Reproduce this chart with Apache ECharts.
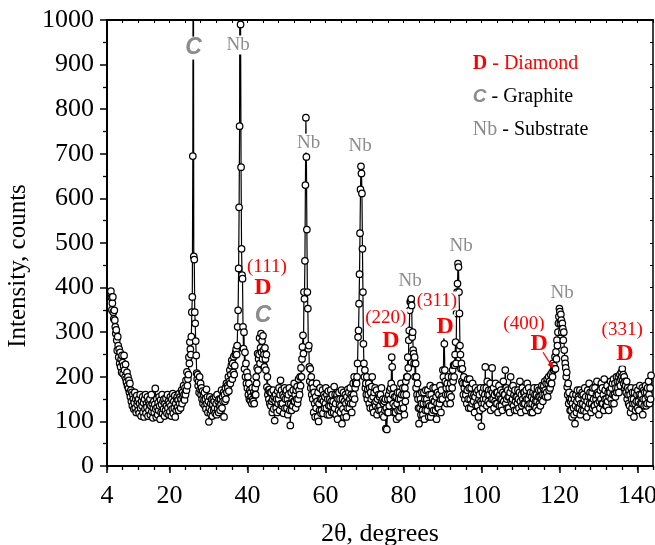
<!DOCTYPE html>
<html><head><meta charset="utf-8">
<script src="https://cdn.jsdelivr.net/npm/echarts@6/dist/echarts.min.js"></script>
<style>html,body{margin:0;padding:0;background:#fff}#c{width:655px;height:545px}</style>
</head><body><div id="c"></div>
<script>
// 2θ sampling grid of the measurement
const angleStart = 5;
const angleStep = 0.125;
// intensity (counts), eight samples per degree
const intensity = [
  392, 378, 350, 365, 379, 345, 330, 349,   // 5
  327, 312, 297, 305, 282, 259, 290, 270,   // 6
  244, 262, 230, 255, 222, 240, 210, 248,   // 7
  232, 207, 225, 248, 215, 200, 228, 195,   // 8
  188, 210, 180, 200, 174, 192, 165, 185,   // 9
  155, 170, 145, 165, 135, 160, 150, 128,   // 10
  142, 165, 130, 150, 120, 158, 138, 145,   // 11
  125, 150, 118, 140, 160, 130, 112, 145,   // 12
  135, 155, 120, 142, 110, 150, 128, 160,   // 13
  118, 140, 132, 155, 112, 145, 125, 138,   // 14
  150, 115, 135, 160, 122, 140, 108, 130,   // 15
  145, 120, 138, 174, 128, 110, 150, 132,   // 16
  115, 142, 125, 155, 135, 105, 148, 120,   // 17
  138, 160, 118, 145, 128, 150, 112, 140,   // 18
  125, 152, 135, 118, 160, 130, 145, 115,   // 19
  140, 122, 155, 135, 112, 150, 128, 162,   // 20
  118, 145, 130, 158, 110, 140, 125, 150,   // 21
  155, 132, 148, 125, 162, 140, 155, 130,   // 22
  150, 170, 140, 165, 155, 180, 160, 148,   // 23
  175, 160, 192, 170, 211, 180, 195, 205,   // 24
  244, 230, 278, 262, 250, 290, 345, 379,   // 25
  695, 1450, 470, 463, 345, 320, 280, 248,  // 26
  208, 195, 205, 180, 190, 165, 200, 172,   // 27
  185, 160, 175, 150, 168, 140, 160, 148,   // 28
  165, 135, 150, 128, 172, 140, 155, 120,   // 29
  145, 99, 130, 155, 118, 140, 125, 150,    // 30
  112, 138, 150, 125, 145, 130, 118, 155,   // 31
  140, 115, 160, 128, 145, 120, 150, 135,   // 32
  125, 150, 138, 170, 130, 155, 145, 165,   // 33
  110, 160, 145, 175, 150, 185, 165, 180,   // 34
  175, 200, 168, 190, 215, 185, 205, 225,   // 35
  237, 195, 230, 210, 245, 205, 225, 250,   // 36
  255, 262, 250, 270, 312, 349, 443, 580,   // 37
  762, 1600, 990, 670, 487, 428, 420, 312,  // 38
  263, 300, 218, 255, 200, 230, 185, 210,   // 39
  175, 200, 160, 185, 150, 170, 147, 165,   // 40
  155, 140, 175, 150, 145, 165, 140, 160,   // 41
  175, 160, 200, 185, 220, 252, 215, 240,   // 42
  250, 287, 230, 265, 297, 255, 280, 240,   // 43
  292, 260, 250, 222, 265, 240, 215, 250,   // 44
  177, 200, 160, 170, 150, 172, 140, 165,   // 45
  135, 165, 145, 120, 150, 170, 128, 155,   // 46
  102, 145, 160, 130, 150, 120, 168, 140,   // 47
  150, 175, 125, 160, 192, 140, 170, 135,   // 48
  140, 160, 118, 155, 175, 130, 150, 165,   // 49
  170, 130, 150, 115, 160, 140, 175, 125,   // 50
  91, 140, 165, 125, 150, 135, 170, 145,    // 51
  185, 145, 160, 130, 170, 150, 178, 140,   // 52
  150, 195, 170, 160, 200, 180, 220, 200,   // 53
  240, 267, 293, 252, 390, 375, 460, 630,   // 54
  781, 693, 530, 390, 353, 263, 270, 222,   // 55
  190, 218, 175, 200, 160, 185, 150, 175,   // 56
  120, 165, 140, 110, 155, 130, 185, 145,   // 57
  110, 165, 100, 140, 125, 175, 150, 118,   // 58
  125, 150, 170, 118, 145, 160, 130, 155,   // 59
  140, 175, 130, 160, 115, 150, 168, 135,   // 60
  115, 150, 135, 170, 145, 120, 160, 138,   // 61
  145, 120, 178, 130, 160, 140, 115, 155,   // 62
  160, 105, 150, 125, 165, 138, 150, 120,   // 63
  135, 170, 95, 150, 128, 165, 110, 145,    // 64
  120, 160, 140, 110, 155, 130, 172, 145,   // 65
  165, 130, 150, 175, 140, 160, 120, 155,   // 66
  140, 185, 160, 200, 150, 175, 185, 190,   // 67
  185, 200, 230, 289, 304, 364, 430, 522,   // 68
  620, 672, 656, 611, 487, 390, 274, 230,   // 69
  200, 215, 175, 185, 160, 200, 150, 172,   // 70
  160, 185, 140, 175, 130, 165, 150, 178,   // 71
  200, 130, 155, 120, 165, 140, 175, 135,   // 72
  145, 170, 115, 150, 130, 160, 125, 155,   // 73
  135, 160, 125, 175, 145, 115, 150, 140,   // 74
  110, 145, 125, 150, 84, 130, 82, 120,     // 75
  150, 120, 160, 135, 170, 150, 175, 185,   // 76
  244, 222, 160, 140, 175, 120, 155, 135,   // 77
  120, 155, 105, 140, 165, 125, 150, 110,   // 78
  165, 125, 150, 185, 130, 160, 140, 175,   // 79
  130, 160, 115, 175, 145, 190, 160, 200,   // 80
  200, 244, 220, 282, 304, 349, 368, 370,   // 81
  375, 360, 289, 300, 260, 252, 230, 244,   // 82
  200, 230, 175, 200, 160, 185, 150, 130,   // 83
  95, 160, 130, 150, 115, 140, 165, 125,    // 84
  115, 140, 165, 105, 150, 125, 170, 140,   // 85
  150, 125, 170, 140, 110, 160, 135, 180,   // 86
  110, 160, 135, 120, 150, 175, 125, 145,   // 87
  145, 175, 125, 155, 105, 140, 165, 130,   // 88
  130, 160, 140, 180, 150, 120, 170, 155,   // 89
  150, 215, 200, 297, 274, 215, 190, 160,   // 90
  175, 140, 185, 160, 200, 150, 175, 160,   // 91
  140, 185, 155, 200, 175, 215, 190, 226,   // 92
  200, 226, 250, 278, 230, 342, 390, 409,   // 93
  454, 446, 390, 342, 270, 250, 218, 230,   // 94
  190, 218, 185, 160, 200, 175, 150, 185,   // 95
  160, 185, 140, 170, 195, 150, 130, 175,   // 96
  195, 150, 130, 175, 160, 140, 185, 155,   // 97
  145, 160, 120, 155, 175, 135, 165, 140,   // 98
  135, 170, 110, 150, 160, 125, 175, 145,   // 99
  89, 140, 165, 130, 150, 175, 140, 160,    // 100
  222, 150, 175, 135, 190, 160, 145, 170,   // 101
  160, 140, 185, 125, 170, 150, 220, 165,   // 102
  150, 175, 130, 160, 145, 185, 140, 165,   // 103
  140, 165, 120, 155, 180, 135, 160, 150,   // 104
  170, 135, 150, 125, 165, 190, 145, 160,   // 105
  160, 215, 140, 175, 150, 130, 170, 155,   // 106
  130, 155, 120, 165, 200, 145, 175, 140,   // 107
  150, 180, 135, 160, 125, 170, 145, 155,   // 108
  125, 155, 140, 170, 150, 130, 165, 190,   // 109
  145, 120, 160, 135, 175, 150, 140, 165,   // 110
  165, 140, 155, 125, 170, 150, 185, 135,   // 111
  150, 175, 130, 160, 140, 165, 120, 155,   // 112
  140, 120, 165, 150, 175, 135, 160, 145,   // 113
  130, 160, 145, 175, 125, 155, 170, 140,   // 114
  155, 135, 170, 150, 180, 160, 145, 175,   // 115
  180, 160, 190, 170, 155, 185, 165, 195,   // 116
  155, 185, 200, 170, 190, 175, 205, 185,   // 117
  185, 210, 200, 230, 215, 225, 218, 245,   // 118
  218, 256, 240, 282, 270, 300, 320, 335,   // 119
  353, 346, 320, 340, 327, 300, 320, 308,   // 120
  282, 300, 260, 241, 230, 220, 200, 210,   // 121
  177, 160, 185, 140, 165, 150, 125, 145,   // 122
  125, 150, 110, 140, 160, 130, 115, 150,   // 123
  95, 135, 160, 120, 145, 170, 130, 155,    // 124
  150, 130, 170, 115, 140, 160, 125, 165,   // 125
  140, 160, 125, 150, 175, 135, 155, 120,   // 126
  110, 145, 170, 130, 155, 185, 140, 165,   // 127
  155, 120, 140, 165, 130, 175, 150, 135,   // 128
  135, 175, 125, 150, 160, 190, 140, 165,   // 129
  160, 115, 145, 130, 170, 150, 185, 140,   // 130
  175, 140, 160, 125, 195, 150, 170, 135,   // 131
  150, 135, 180, 145, 165, 125, 155, 170,   // 132
  165, 190, 150, 175, 140, 185, 160, 195,   // 133
  140, 160, 185, 155, 175, 200, 165, 190,   // 134
  175, 200, 165, 190, 205, 180, 195, 210,   // 135
  200, 218, 192, 205, 185, 200, 175, 190,   // 136
  180, 165, 190, 150, 175, 160, 140, 170,   // 137
  135, 160, 120, 175, 150, 130, 165, 140,   // 138
  150, 110, 165, 140, 125, 175, 145, 160,   // 139
  130, 170, 145, 125, 160, 180, 140, 155,   // 140
  160, 140, 175, 115, 150, 170, 135, 165,   // 141
  150, 180, 135, 165, 140, 175, 155, 190,   // 142
  160, 140, 175, 150, 203                   // 143
];
const xMajorTicks = [4, 20, 40, 60, 80, 100, 120, 140];
const xLabels = [4, 20, 40, 60, 80, 100, 120, 140];

// peak annotations, placed in data coordinates (2θ, counts)
const peakLabels = [
  { text: 'C', kind: 'c', x: 26.2, y: 937 },
  { text: 'Nb', kind: 'nb', x: 37.6, y: 944 },
  { text: 'Nb', kind: 'nb', x: 55.7, y: 724 },
  { text: 'Nb', kind: 'nb', x: 68.9, y: 717 },
  { text: 'Nb', kind: 'nb', x: 81.7, y: 414 },
  { text: 'Nb', kind: 'nb', x: 94.8, y: 494 },
  { text: 'Nb', kind: 'nb', x: 120.7, y: 387 },
  { text: '(111)', kind: 'hkl', x: 45.0, y: 446 },
  { text: 'D', kind: 'd', x: 44.0, y: 399 },
  { text: 'C', kind: 'c', x: 44.0, y: 338 },
  { text: '(220)', kind: 'hkl', x: 75.5, y: 331 },
  { text: 'D', kind: 'd', x: 76.8, y: 280 },
  { text: '(311)', kind: 'hkl', x: 88.6, y: 370 },
  { text: 'D', kind: 'd', x: 90.7, y: 313 },
  { text: '(400)', kind: 'hkl', x: 110.9, y: 318 },
  { text: 'D', kind: 'd', x: 114.8, y: 275 },
  { text: '(331)', kind: 'hkl', x: 136.1, y: 306 },
  { text: 'D', kind: 'd', x: 136.8, y: 252 }
];
const arrow400 = { from: [115.8, 255], to: [118.4, 219] };
const legendRows = [
  { x: 97.8, y: 901, key: 'D', keyKind: 'd', rest: ' - Diamond', restColor: '#ff0000' },
  { x: 97.8, y: 827, key: 'C', keyKind: 'c', rest: ' - Graphite', restColor: '#000' },
  { x: 97.8, y: 753, key: 'Nb', keyKind: 'nb', rest: ' - Substrate', restColor: '#000' }
];

const SERIF = 'Liberation Serif';
const SANS = 'Liberation Sans';
const GRAY = '#8c8c8c';
const RED = '#ff0000';
const kindStyle = {
  nb:  { fontFamily: SERIF, fontSize: 19, fontWeight: 'normal', fontStyle: 'normal', fill: GRAY },
  c:   { fontFamily: SANS, fontSize: 23, fontWeight: 'bold', fontStyle: 'italic', fill: GRAY },
  d:   { fontFamily: SERIF, fontSize: 24, fontWeight: 'bold', fontStyle: 'normal', fill: RED },
  hkl: { fontFamily: SERIF, fontSize: 19, fontWeight: 'normal', fontStyle: 'normal', fill: RED }
};
const legendKeyStyle = {
  d:  { fontFamily: SERIF, fontSize: 20, fontWeight: 'bold', fontStyle: 'normal', fill: RED },
  c:  { fontFamily: SANS, fontSize: 19, fontWeight: 'bold', fontStyle: 'italic', fill: GRAY },
  nb: { fontFamily: SERIF, fontSize: 20, fontWeight: 'normal', fontStyle: 'normal', fill: GRAY }
};

const seriesData = intensity.map((v, i) => [angleStart + i * angleStep, v]);

const chart = echarts.init(document.getElementById('c'), null, { renderer: 'canvas' });
const axisFont = { fontFamily: SERIF, fontSize: 26, color: '#000' };
chart.setOption({
  animation: false,
  backgroundColor: '#fff',
  grid: { left: 107, right: 2, top: 20, bottom: 79, containLabel: false, outerBoundsMode: 'none' },
  xAxis: [
    {
      type: 'value', min: 4, max: 144, interval: 4, position: 'bottom',
      axisLine: { show: true, lineStyle: { color: '#000', width: 2 } },
      axisTick: { show: true, length: 4, lineStyle: { color: '#000', width: 1.3 } },
      axisLabel: { show: false },
      splitLine: { show: false },
      name: '2θ, degrees', nameLocation: 'middle', nameGap: 55,
      nameTextStyle: { fontFamily: SERIF, fontSize: 26, color: '#000' }
    },
    {
      type: 'value', min: 4, max: 144, position: 'bottom',
      axisLine: { show: false },
      axisTick: { show: true, length: 7, customValues: xMajorTicks, lineStyle: { color: '#000', width: 1.5 } },
      axisLabel: Object.assign({ show: true, margin: 17, customValues: xLabels,
        formatter: v => String(v) }, axisFont),
      splitLine: { show: false }
    },
    {
      type: 'value', min: 4, max: 144, interval: 4, position: 'top',
      axisLine: { show: true, lineStyle: { color: '#000', width: 2 } },
      axisTick: { show: true, inside: true, length: 3, lineStyle: { color: '#000', width: 1 } },
      axisLabel: { show: false },
      splitLine: { show: false }
    }
  ],
  yAxis: [
    {
      type: 'value', min: 0, max: 1000, interval: 100, position: 'left',
      axisLine: { show: true, lineStyle: { color: '#000', width: 2 } },
      axisTick: { show: true, length: 7, lineStyle: { color: '#000', width: 1.5 } },
      minorTick: { show: true, splitNumber: 2, length: 4, lineStyle: { color: '#000', width: 1.3 } },
      axisLabel: Object.assign({ margin: 13, formatter: v => String(v) }, axisFont),
      splitLine: { show: false },
      name: 'Intensity, counts', nameLocation: 'middle', nameGap: 72,
      nameTextStyle: { fontFamily: SERIF, fontSize: 25, color: '#000', padding: [0, 46, 0, 0] }
    },
    {
      type: 'value', min: 0, max: 1000, interval: 50, position: 'right',
      axisLine: { show: true, lineStyle: { color: '#000', width: 1.5 } },
      axisTick: { show: true, inside: true, length: 3, lineStyle: { color: '#000', width: 1 } },
      axisLabel: { show: false },
      splitLine: { show: false }
    }
  ],
  series: [{
    type: 'line',
    xAxisIndex: 0, yAxisIndex: 0,
    data: seriesData,
    clip: true,
    symbol: 'circle',
    symbolSize: 6.5,
    showSymbol: true,
    showAllSymbol: true,
    itemStyle: { color: '#fff', borderColor: '#000', borderWidth: 1.25 },
    lineStyle: { color: '#000', width: 1.2 },
    emphasis: { disabled: true },
    z: 2
  }]
});

function px(x, y) { return chart.convertToPixel({ seriesIndex: 0 }, [x, y]); }
const graphics = [];
peakLabels.forEach(l => {
  const p = px(l.x, l.y);
  const s = kindStyle[l.kind];
  graphics.push({
    type: 'text', x: p[0], y: p[1], z: 100,
    style: Object.assign({ text: l.text, align: 'center', verticalAlign: 'middle',
      backgroundColor: '#fff', padding: [0, 1] }, s)
  });
});
// arrow for (400)
(function () {
  const a = px(arrow400.from[0], arrow400.from[1]);
  const b = px(arrow400.to[0], arrow400.to[1]);
  const dx = b[0] - a[0], dy = b[1] - a[1];
  const len = Math.sqrt(dx * dx + dy * dy);
  const ux = dx / len, uy = dy / len;
  const hl = 6, hw = 3;
  const base = [b[0] - ux * hl, b[1] - uy * hl];
  graphics.push({ type: 'line', z: 100, shape: { x1: a[0], y1: a[1], x2: base[0], y2: base[1] },
    style: { stroke: RED, lineWidth: 1.3 } });
  graphics.push({ type: 'polygon', z: 100, shape: { points: [
    b, [base[0] - uy * hw, base[1] + ux * hw], [base[0] + uy * hw, base[1] - ux * hw]] },
    style: { fill: RED } });
})();
legendRows.forEach(r => {
  const p = px(r.x, r.y);
  const ks = legendKeyStyle[r.keyKind];
  graphics.push({
    type: 'text', x: p[0], y: p[1], z: 100,
    style: {
      text: '{k|' + r.key + '}{r|' + r.rest + '}',
      align: 'left', verticalAlign: 'middle',
      rich: {
        k: ks,
        r: { fontFamily: SERIF, fontSize: 20, fill: r.restColor }
      }
    }
  });
});
chart.setOption({ graphic: graphics });
</script>
</body></html>
